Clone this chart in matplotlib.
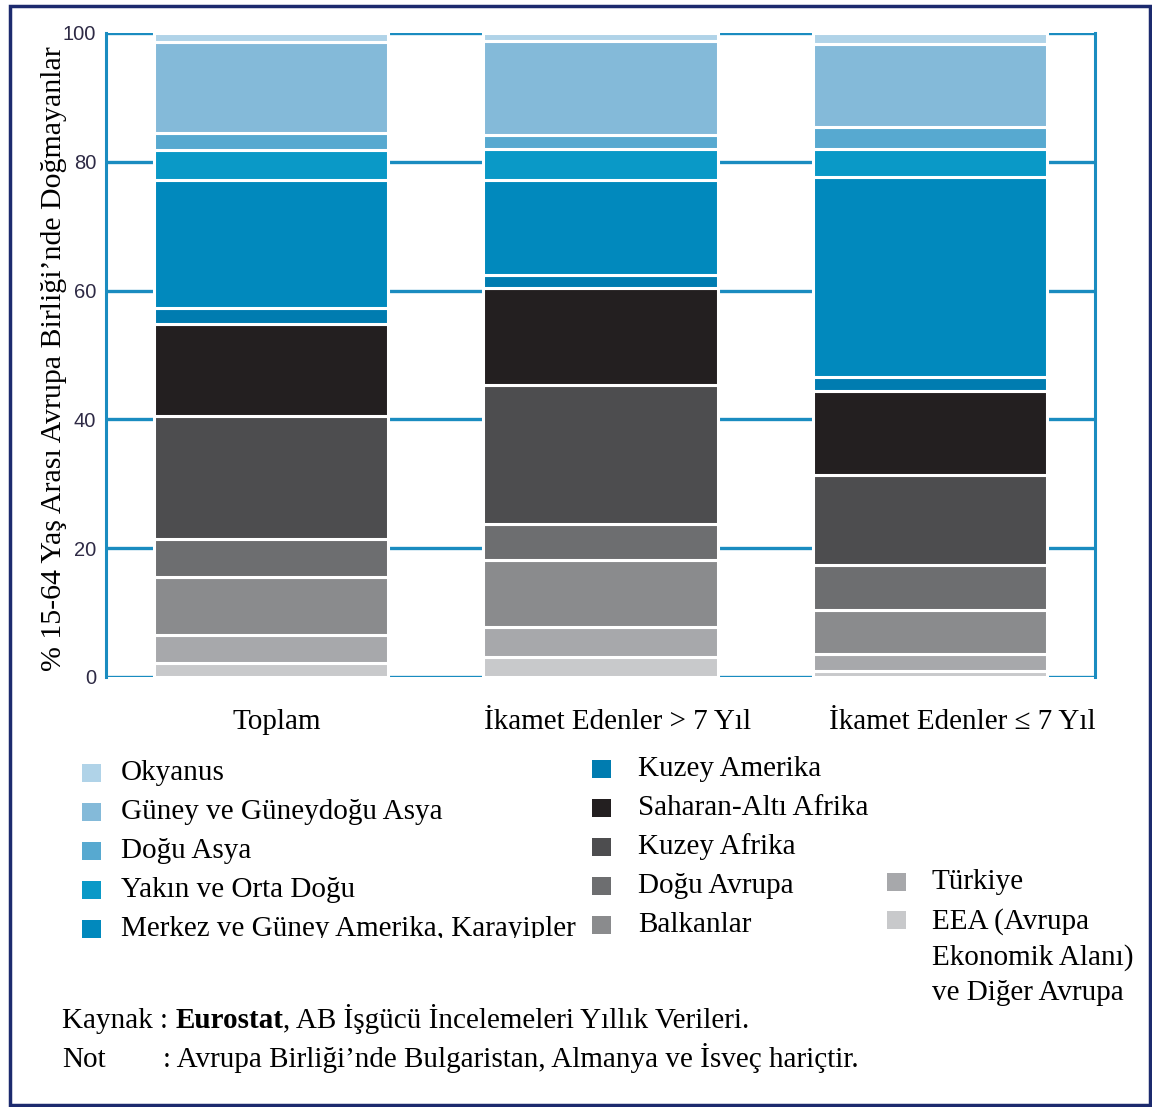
import matplotlib.pyplot as plt
import matplotlib.transforms as mtransforms
from matplotlib.patches import Rectangle
import numpy as np

# Veriler (alttan üste doğru yığılma sırası)
groups = ['Toplam', 'İkamet Edenler > 7 Yıl', 'İkamet Edenler ≤ 7 Yıl']
regions = ['EEA (Avrupa\nEkonomik Alanı)\nve Diğer Avrupa', 'Türkiye', 'Balkanlar', 'Doğu Avrupa',
           'Kuzey Afrika', 'Saharan-Altı Afrika', 'Kuzey Amerika',
           'Merkez ve Güney Amerika, Karayipler', 'Yakın ve Orta Doğu',
           'Doğu Asya', 'Güney ve Güneydoğu Asya', 'Okyanus']
values = {
    'Toplam':                 [2.2, 4.3, 9.0, 5.9, 19.1, 14.3, 2.5, 19.9, 4.6, 2.7, 14.1, 1.4],
    'İkamet Edenler > 7 Yıl': [3.1, 4.7, 10.4, 5.6, 21.5, 15.1, 2.0, 14.8, 4.8, 2.2, 14.6, 1.2],
    'İkamet Edenler ≤ 7 Yıl': [0.9, 2.7, 6.8, 7.0, 14.0, 13.0, 2.2, 31.0, 4.4, 3.4, 12.9, 1.7],
}
colors = ['#c8c9cb', '#a7a8ab', '#8a8b8d', '#6d6e70', '#4d4d4f', '#231f20',
          '#007cb0', '#0189bd', '#0a99c7', '#57a9d0', '#84bad9', '#b0d3e8']

serif = ['Liberation Serif', 'DejaVu Serif']
fs = 21
blue = '#1a8cc0'

W, H = 1152, 1107
fig = plt.figure(figsize=(W / 100, H / 100), dpi=100)
ax = fig.add_axes([106 / W, 1 - 677 / H, (1095 - 106) / W, (677 - 33) / H])

x = np.arange(len(groups))
bottom = np.zeros(len(groups))
for i, reg in enumerate(regions):
    vals = np.array([values[g][i] for g in groups])
    ax.bar(x, vals, bottom=bottom, width=0.71, color=colors[i],
           edgecolor='white', linewidth=2.2, zorder=3)
    bottom += vals

ax.set_xlim(-0.5, 2.5)
ax.set_ylim(0, 100)
ax.set_yticks([0, 20, 40, 60, 80, 100])
ax.yaxis.grid(True, color=blue, linewidth=2.4, zorder=1)
ax.set_axisbelow(True)
for side in ['top', 'bottom']:
    ax.spines[side].set_visible(False)
for side in ['left', 'right']:
    ax.spines[side].set_color(blue)
    ax.spines[side].set_linewidth(2.2)
ax.tick_params(axis='y', length=0, pad=7, labelsize=14.5, labelcolor='#2e2a45')
for lab in ax.get_yticklabels():
    lab.set_family(['Liberation Sans Narrow', 'Liberation Sans', 'DejaVu Sans'])
ax.tick_params(axis='x', length=0, pad=23, labelsize=fs)
ax.set_xticks(x)
ax.set_xticklabels(groups, family=serif)
shifts = [6, 17, 32]
for lab, s in zip(ax.get_xticklabels(), shifts):
    lab.set_transform(lab.get_transform() + mtransforms.ScaledTranslation(s / 100, 0, fig.dpi_scale_trans))

ax.set_ylabel('% 15-64 Yaş Arası Avrupa Birliği’nde Doğmayanlar', family=serif, fontsize=21.5)
ax.yaxis.set_label_coords(-0.039, 0.495)

# Lejant
def legend_item(px, tx, py, color, text, clip_y=None):
    fig.add_artist(Rectangle((px / W, 1 - (py + 9) / H), 19 / W, 18 / H,
                             transform=fig.transFigure, facecolor=color, edgecolor='none'))
    t = fig.text(tx / W, 1 - py / H, text, family=serif, fontsize=fs,
                 va='center', ha='left')
    if clip_y is not None:
        t.set_clip_box(mtransforms.Bbox.from_extents(0, H - clip_y, W, H))
        t.set_clip_on(True)
    return t

col1 = [11, 10, 9, 8, 7]
col2 = [6, 5, 4, 3, 2]
for k, idx in enumerate(col1):
    legend_item(82, 121, 773 + 39 * k, colors[idx], regions[idx],
                clip_y=938 if k == 4 else None)
for k, idx in enumerate(col2):
    legend_item(592, 638, 769 + 39 * k, colors[idx], regions[idx])
legend_item(887, 932, 882, colors[1], regions[1])
fig.add_artist(Rectangle((887 / W, 1 - (920 + 9) / H), 19 / W, 18 / H,
                         transform=fig.transFigure, facecolor=colors[0], edgecolor='none'))
fig.text(932 / W, 1 - 908 / H, regions[0], family=serif, fontsize=fs,
         va='top', ha='left', linespacing=1.45)

# Kaynak ve not
fig.canvas.draw()
r = fig.canvas.get_renderer()
y1, y2 = 1 - 1028 / H, 1 - 1067 / H
t1 = fig.text(62 / W, y1, 'Kaynak : ', family=serif, fontsize=fs, va='baseline')
bb = t1.get_window_extent(r)
t2 = fig.text(bb.x1 / W, y1, 'Eurostat', family=serif, fontsize=fs,
              va='baseline', weight='bold')
bb = t2.get_window_extent(r)
fig.text(bb.x1 / W, y1, ', AB İşgücü İncelemeleri Yıllık Verileri.',
         family=serif, fontsize=fs, va='baseline')
fig.text(62 / W, y2, 'Not', family=serif, fontsize=fs, va='baseline')
fig.text(163 / W, y2, ': Avrupa Birliği’nde Bulgaristan, Almanya ve İsveç hariçtir.',
         family=serif, fontsize=fs, va='baseline')

# Çerçeve
fig.add_artist(Rectangle((10 / W, 1 - 1105 / H), 1140 / W, 1099 / H, transform=fig.transFigure,
                         facecolor='none', edgecolor='#1c2a6e', linewidth=2.5))

fig.savefig('out.png', dpi=100)
